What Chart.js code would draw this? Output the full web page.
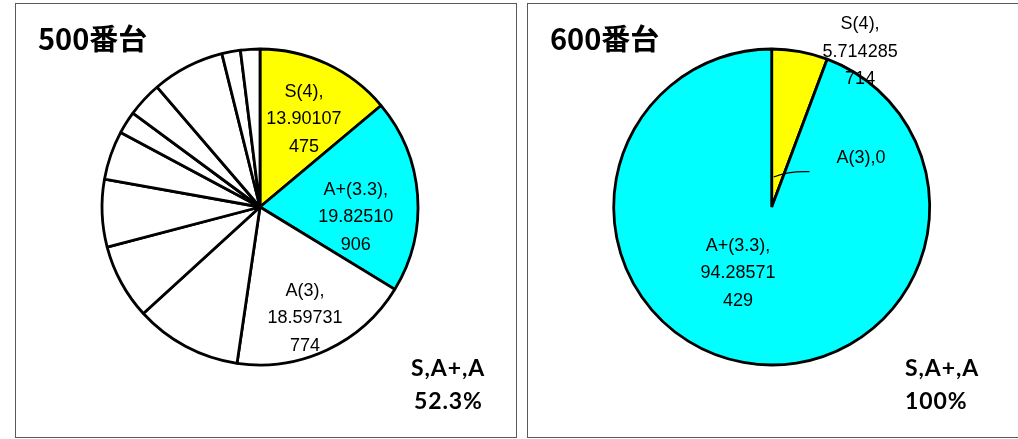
<!DOCTYPE html>
<html>
<head>
<meta charset="utf-8">
<script src="https://cdn.jsdelivr.net/npm/chart.js@4.4.1/dist/chart.umd.min.js"></script>
<style>
  html, body { margin: 0; padding: 0; background: #fff; }
  body { width: 1018px; height: 439px; overflow: hidden; position: relative; }
  .box { position: absolute; top: 3px; width: 500px; height: 433px; border: 1px solid #5a5a5a; background: #fff; }
  .box canvas { position: absolute; left: 0; top: 0; }
  .title { position: absolute; font-family: "Noto Sans CJK JP", sans-serif; font-weight: 700; font-size: 29px; line-height: 29px; color: #000; white-space: nowrap; }
  .note { position: absolute; font-family: Lato, "Open Sans", sans-serif; font-weight: 700; font-size: 23px; line-height: 23px; letter-spacing: 0.9px; color: #000; white-space: nowrap; }
</style>
</head>
<body>
<div class="box" id="box1" style="left:15px;"><canvas id="c1" width="500" height="433"></canvas></div>
<div class="box" id="box2" style="left:527px;"><canvas id="c2" width="500" height="433"></canvas></div>
<div class="title" id="t1" style="left:38px; top:23px;"></div>
<div class="title" id="t2" style="left:550px; top:23px;"></div>
<div class="note" id="n1a" style="left:411px; top:356px;"></div>
<div class="note" id="n1b" style="left:414px; top:389px;"></div>
<div class="note" id="n2a" style="left:905px; top:356px;"></div>
<div class="note" id="n2b" style="left:905px; top:389px;"></div>
<script>
// ---- data ----
const titles = ["500番台", "600番台"];
const summaryLabel = "S,A+,A";
const summaryValues = ["52.3%", "100%"];

const categories500 = ["S(4)", "A+(3.3)", "A(3)", "B+(2.7)", "B(2.3)", "B-(2)", "C+(1.7)", "C(1.3)", "C-(1)", "D+(0.7)", "D(0.3)", "F(0)"];
const values500 = [13.90107475, 19.82510906, 18.59731774, 10.9, 7.7, 6.9, 5.0, 2.3, 3.6, 7.4, 1.9, 1.98];
const colors500 = ["#FFFF00", "#00FFFF", "#FFFFFF", "#FFFFFF", "#FFFFFF", "#FFFFFF", "#FFFFFF", "#FFFFFF", "#FFFFFF", "#FFFFFF", "#FFFFFF", "#FFFFFF"];

const categories600 = ["S(4)", "A+(3.3)", "A(3)"];
const values600 = [5.714285714, 94.28571429, 0];
const colors600 = ["#FFFF00", "#00FFFF", "#FFFFFF"];

// label placement relative to slice mid-angle (deg offset, fraction of radius)
const place500 = [{da: 1.6, r: 0.62}, {da: 10.3, r: 0.61}, {da: 3.1, r: 0.76}];
const place600 = [{da: 19.4, r: 1.13}, {da: 16.7, r: 0.47}, {da: 61.2, r: 0.645, leader: true}];

document.getElementById('t1').textContent = titles[0];
document.getElementById('t2').textContent = titles[1];
document.getElementById('n1a').textContent = summaryLabel;
document.getElementById('n1b').textContent = summaryValues[0];
document.getElementById('n2a').textContent = summaryLabel;
document.getElementById('n2b').textContent = summaryValues[1];

function wrapLabel(name, value) {
  const v = String(value);
  const full = name + "," + v;
  if (full.length <= 8) return [full];
  const lines = [name + ","];
  for (let i = 0; i < v.length; i += 8) lines.push(v.slice(i, i + 8));
  return lines;
}

const sliceLabels = {
  id: 'sliceLabels',
  afterDatasetsDraw(chart, args, opts) {
    const ctx = chart.ctx;
    const meta = chart.getDatasetMeta(0);
    const ds = chart.data.datasets[0];
    const lineH = 27.5;
    meta.data.forEach((arc, i) => {
      const p = opts.places[i];
      if (!p) return;
      const {x, y, startAngle, endAngle, outerRadius} = arc.getProps(['x', 'y', 'startAngle', 'endAngle', 'outerRadius'], true);
      const midRaw = (startAngle + endAngle) / 2;
      const mid = midRaw + p.da * Math.PI / 180;
      const lx = x + Math.cos(mid) * outerRadius * p.r;
      const ly = y + Math.sin(mid) * outerRadius * p.r;
      const lines = wrapLabel(chart.data.labels[i], ds.data[i]);
      ctx.save();
      ctx.font = '18px "Liberation Sans", Arial, sans-serif';
      ctx.fillStyle = '#000';
      ctx.textAlign = 'center';
      ctx.textBaseline = 'middle';
      lines.forEach((t, k) => ctx.fillText(t, lx, ly + (k - (lines.length - 1) / 2) * lineH));
      if (p.leader) {
        const sx = x + Math.cos(midRaw) * outerRadius * 0.19 + 2;
        const sy = y + Math.sin(midRaw) * outerRadius * 0.19;
        const ex = lx - 51.5, ey = ly + 13.8;
        ctx.beginPath();
        ctx.moveTo(sx, sy);
        ctx.quadraticCurveTo(sx + 15, sy - 6, ex, ey);
        ctx.strokeStyle = '#000';
        ctx.lineWidth = 1.2;
        ctx.stroke();
      }
      ctx.restore();
    });
  }
};

function makePie(id, cats, vals, cols, places, pad) {
  new Chart(document.getElementById(id), {
    type: 'pie',
    data: {
      labels: cats,
      datasets: [{
        data: vals,
        backgroundColor: cols,
        borderColor: '#000',
        borderWidth: 2.8,
        radius: 158
      }]
    },
    options: {
      responsive: false,
      animation: false,
      layout: { padding: pad },
      plugins: {
        legend: { display: false },
        tooltip: { enabled: false },
        sliceLabels: { places: places }
      }
    },
    plugins: [sliceLabels]
  });
}

makePie('c1', categories500, values500, colors500, place500, {left: 80, right: 92, top: 40, bottom: 67});
makePie('c2', categories600, values600, colors600, place600, {left: 80, right: 92.6, top: 40, bottom: 67});
</script>
</body>
</html>
